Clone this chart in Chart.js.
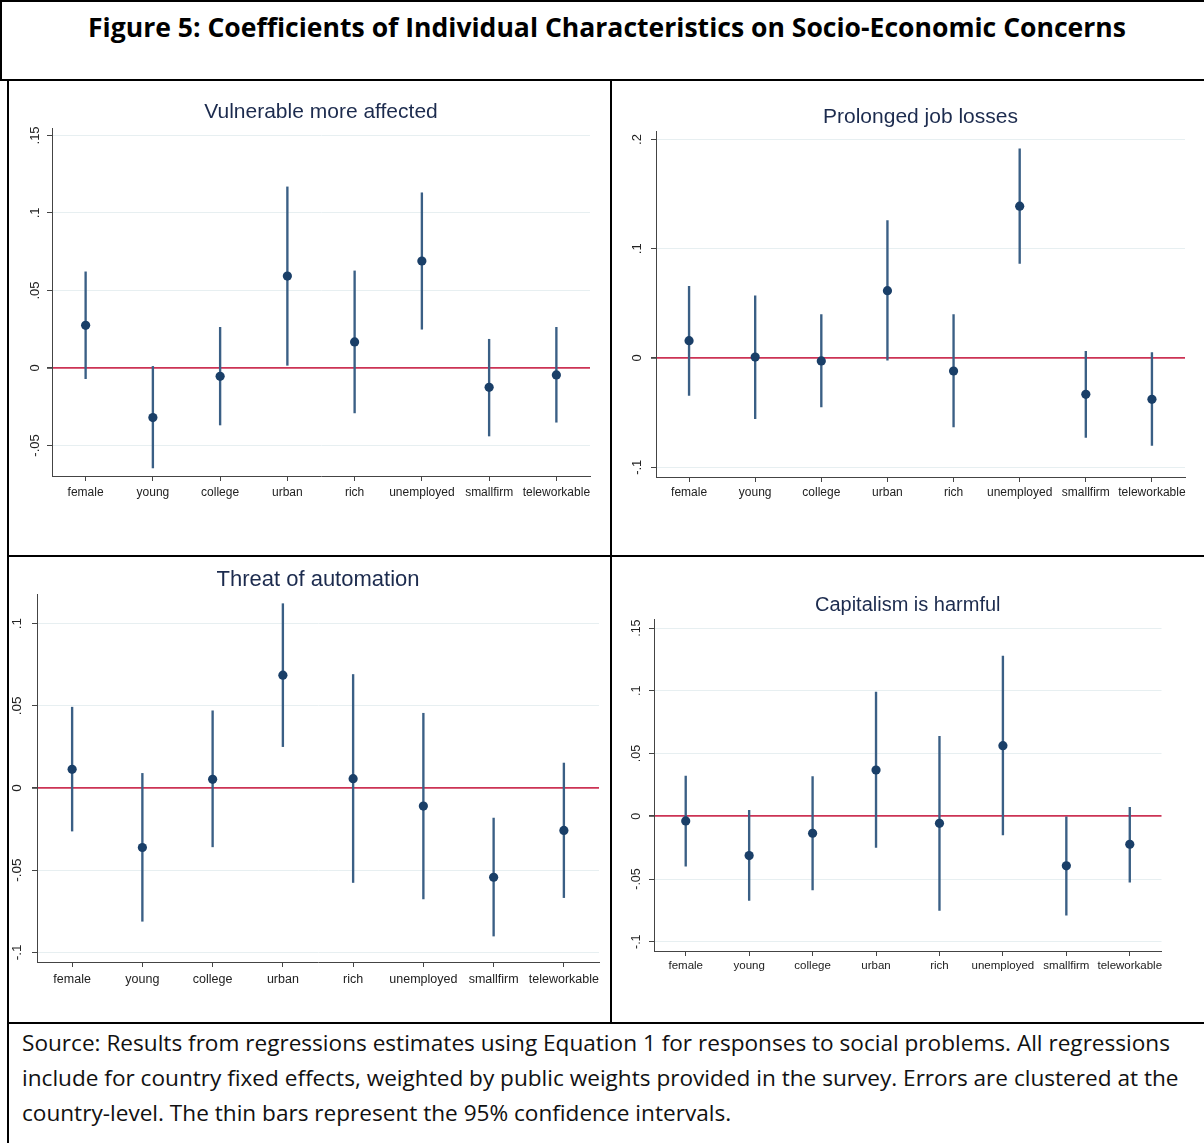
<!DOCTYPE html>
<html>
<head>
<meta charset="utf-8">
<script src="https://cdn.jsdelivr.net/npm/chart.js@4.4.1/dist/chart.umd.min.js"></script>
<style>
  body { margin: 0; background: #fff; }
  #page { position: relative; width: 1204px; height: 1143px; overflow: hidden; background: #fff; }
  .ln { position: absolute; background: #000; }
  canvas { position: absolute; }
  #figTitle { position: absolute; left: 88px; top: 8px; line-height: 34px; font: bold 27px 'Open Sans', sans-serif; white-space: nowrap; color: #000; transform-origin: 0 0; }
  .note { position: absolute; left: 22px; line-height: 35px; font: 22px 'Open Sans', sans-serif; white-space: nowrap; color: #111; transform-origin: 0 0; }
</style>
</head>
<body>
<div id="page">
  <div class="ln" style="left:0;top:0;width:1204px;height:2px"></div>
  <div class="ln" style="left:0;top:0;width:2px;height:81px"></div>
  <div class="ln" style="left:0;top:79px;width:1204px;height:2px"></div>
  <div class="ln" style="left:7px;top:79px;width:2px;height:1064px"></div>
  <div class="ln" style="left:610px;top:79px;width:2px;height:945px"></div>
  <div class="ln" style="left:7px;top:555px;width:1197px;height:2px"></div>
  <div class="ln" style="left:7px;top:1022px;width:1197px;height:2px"></div>

  <span id="figTitle">Figure 5: Coefficients of Individual Characteristics on Socio-Economic Concerns</span>

  <canvas id="p1"></canvas>
  <canvas id="p2"></canvas>
  <canvas id="p3"></canvas>
  <canvas id="p4"></canvas>

  <span class="note" id="n1" style="top:1027px">Source: Results from regressions estimates using Equation 1 for responses to social problems. All regressions</span>
  <span class="note" id="n2" style="top:1062px">include for country fixed effects, weighted by public weights provided in the survey. Errors are clustered at the</span>
  <span class="note" id="n3" style="top:1097px">country-level. The thin bars represent the 95% confidence intervals.</span>
</div>

<script>
const categories = ['female', 'young', 'college', 'urban', 'rich', 'unemployed', 'smallfirm', 'teleworkable'];

// Vulnerable more affected
const vulnCoef = [0.0275, -0.032, -0.0054, 0.0593, 0.0168, 0.069, -0.0125, -0.0045];
const vulnLow = [-0.0069, -0.0645, -0.0368, 0.0017, -0.029, 0.025, -0.0439, -0.035];
const vulnHigh = [0.062, 0.001, 0.0262, 0.1168, 0.0626, 0.113, 0.0185, 0.0262];
const vulnTicks = [-0.05, 0, 0.05, 0.1, 0.15];
const vulnTickLabels = ['-.05', '0', '.05', '.1', '.15'];

// Prolonged job losses
const jobCoef = [0.0159, 0.0009, -0.0027, 0.0616, -0.0119, 0.139, -0.0332, -0.0378];
const jobLow = [-0.0342, -0.0555, -0.0448, -0.002, -0.0631, 0.0866, -0.0726, -0.0799];
const jobHigh = [0.0656, 0.057, 0.0397, 0.1257, 0.0397, 0.1915, 0.0061, 0.0049];
const jobTicks = [-0.1, 0, 0.1, 0.2];
const jobTickLabels = ['-.1', '0', '.1', '.2'];

// Threat of automation
const autoCoef = [0.0114, -0.0362, 0.0053, 0.0687, 0.0057, -0.011, -0.0543, -0.0258];
const autoLow = [-0.0262, -0.0811, -0.0358, 0.0252, -0.0575, -0.0675, -0.0901, -0.0667];
const autoHigh = [0.0492, 0.0089, 0.047, 0.1122, 0.0691, 0.0455, -0.0183, 0.0152];
const autoTicks = [-0.1, -0.05, 0, 0.05, 0.1];
const autoTickLabels = ['-.1', '-.05', '0', '.05', '.1'];

// Capitalism is harmful
const capCoef = [-0.0037, -0.0313, -0.0135, 0.0369, -0.0056, 0.0563, -0.0395, -0.0223];
const capLow = [-0.0398, -0.0671, -0.0587, -0.0249, -0.0751, -0.0149, -0.0788, -0.0525];
const capHigh = [0.0321, 0.0048, 0.0316, 0.099, 0.0637, 0.1277, -0.0005, 0.0072];
const capTicks = [-0.1, -0.05, 0, 0.05, 0.1, 0.15];
const capTickLabels = ['-.1', '-.05', '0', '.05', '.1', '.15'];

const FONT = "'Liberation Sans', Arial, sans-serif";
const TICK_LEN = 5;

// box: canvas [left, top, width, height]; area: plot [left, top, right, bottom] in page pixels
const panels = [
  { id: 'p1', title: 'Vulnerable more affected', coef: vulnCoef, low: vulnLow, high: vulnHigh,
    ticks: vulnTicks, tickLabels: vulnTickLabels, min: -0.0697, max: 0.1548,
    box: [9, 81, 601, 474], area: [52, 128, 590, 476], titleSize: 21, titleY: 112,
    labelSize: 12, labelY: 493, ySize: 13, yLabelX: 35 },
  { id: 'p2', title: 'Prolonged job losses', coef: jobCoef, low: jobLow, high: jobHigh,
    ticks: jobTicks, tickLabels: jobTickLabels, min: -0.1089, max: 0.2073,
    box: [612, 81, 592, 474], area: [656, 131.5, 1185, 477], titleSize: 21, titleY: 117,
    labelSize: 12, labelY: 493, ySize: 13, yLabelX: 637 },
  { id: 'p3', title: 'Threat of automation', coef: autoCoef, low: autoLow, high: autoHigh,
    ticks: autoTicks, tickLabels: autoTickLabels, min: -0.1059, max: 0.1181,
    box: [9, 557, 601, 465], area: [37, 594, 599, 962], titleSize: 22, titleY: 580,
    labelSize: 12.5, labelY: 979.5, ySize: 13.5, yLabelX: 17.5 },
  { id: 'p4', title: 'Capitalism is harmful', coef: capCoef, low: capLow, high: capHigh,
    ticks: capTicks, tickLabels: capTickLabels, min: -0.1074, max: 0.1573,
    box: [612, 557, 592, 465], area: [654, 619, 1161.5, 951], titleSize: 20, titleY: 605,
    labelSize: 11.5, labelY: 966, ySize: 12.5, yLabelX: 636.5 }
];

const measure = document.createElement('canvas').getContext('2d');

panels.forEach(p => {
  const cv = document.getElementById(p.id);
  const [bx, by, bw, bh] = p.box;
  const [al, at, ar, ab] = p.area;
  cv.width = bw; cv.height = bh;
  cv.style.left = bx + 'px'; cv.style.top = by + 'px';
  cv.style.width = bw + 'px'; cv.style.height = bh + 'px';

  const yAxisWidth = al - bx;
  const xAxisHeight = by + bh - ab;
  const rightPad = bx + bw - ar;
  const titleLine = p.titleSize * 1.2;
  const titleTop = p.titleY - by - titleLine / 2;
  const titleBottom = at - by - titleTop - titleLine;
  const xPad = p.labelY - ab - TICK_LEN - p.labelSize * 0.6;
  measure.font = p.ySize + 'px ' + FONT;
  const widest = Math.max(...p.tickLabels.map(t => measure.measureText(t).width));
  const yPad = al - p.yLabelX - TICK_LEN - widest / 2;

  new Chart(cv.getContext('2d'), {
    type: 'bar',
    data: {
      labels: categories,
      datasets: [
        {
          type: 'line',
          data: p.coef,
          showLine: false,
          pointRadius: 4.6,
          pointBackgroundColor: '#1a3f68',
          pointBorderWidth: 0,
          order: 0
        },
        {
          type: 'bar',
          data: p.low.map((lo, i) => [lo, p.high[i]]),
          backgroundColor: '#3a5f85',
          barThickness: 1.7,
          order: 1
        }
      ]
    },
    options: {
      responsive: false,
      animation: false,
      layout: { padding: { left: 0, right: rightPad, top: 0, bottom: 0 } },
      plugins: {
        legend: { display: false },
        tooltip: { enabled: false },
        title: {
          display: true,
          text: p.title,
          color: '#1c2b4e',
          fullSize: false,
          font: { family: FONT, size: p.titleSize, weight: 'normal', lineHeight: 1.2 },
          padding: { top: titleTop, bottom: titleBottom }
        }
      },
      scales: {
        x: {
          offset: true,
          grid: { offset: false, drawOnChartArea: false, tickLength: TICK_LEN, tickColor: '#444' },
          border: { display: true, color: '#444', width: 1 },
          ticks: {
            color: '#222',
            font: { family: FONT, size: p.labelSize },
            padding: xPad,
            autoSkip: false,
            minRotation: 0,
            maxRotation: 0
          },
          afterFit: axis => { axis.height = xAxisHeight; }
        },
        y: {
          min: p.min,
          max: p.max,
          afterBuildTicks: axis => { axis.ticks = p.ticks.map(v => ({ value: v })); },
          grid: {
            color: c => (c.tick && c.tick.value === 0) ? '#cc3355' : '#e7eff1',
            lineWidth: c => (c.tick && c.tick.value === 0) ? 1.8 : 1,
            tickLength: TICK_LEN,
            tickColor: '#444'
          },
          border: { display: true, color: '#444', width: 1 },
          ticks: {
            color: '#222',
            font: { family: FONT, size: p.ySize },
            padding: yPad,
            minRotation: 90,
            maxRotation: 90,
            crossAlign: 'center',
            callback: (v, i) => p.tickLabels[i]
          },
          afterFit: axis => { axis.width = yAxisWidth; }
        }
      }
    }
  });
});

function fitWidth(id, target) {
  const el = document.getElementById(id);
  el.style.transform = 'none';
  const w = el.getBoundingClientRect().width;
  el.style.transform = 'scaleX(' + (target / w) + ')';
  return target / w;
}
function fitText() {
  fitWidth('figTitle', 1038);
  const s = fitWidth('n1', 1148);
  document.getElementById('n2').style.transform = 'scaleX(' + s + ')';
  document.getElementById('n3').style.transform = 'scaleX(' + s + ')';
}
fitText();
document.fonts.ready.then(fitText);
</script>
</body>
</html>
